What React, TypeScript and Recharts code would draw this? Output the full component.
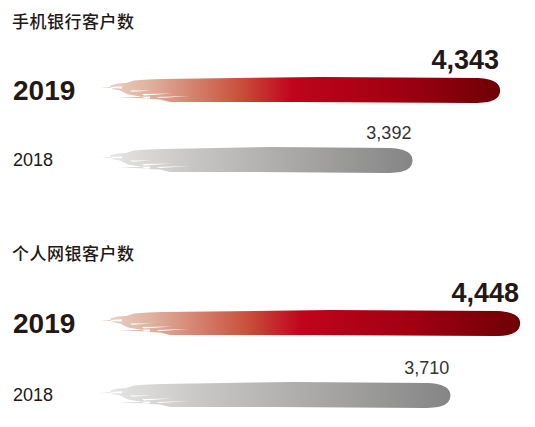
import React from "react";
import { BarChart, Bar, XAxis, YAxis, LabelList } from "recharts";

const categories = ["2019", "2018"];
const mobileValues = [4343, 3392];
const onlineValues = [4448, 3710];
const panelTitles = ["手机银行客户数", "个人网银客户数"];

const FONT = "'Liberation Sans', Arial, Helvetica, sans-serif";
const CJK = "'Noto Sans CJK SC', 'Noto Sans', sans-serif";

const toRows = (values: number[]) =>
  categories.map((year, i) => ({ year, value: values[i] }));

// brush stroke: ragged, upper-heavy left end and a rounded right end
function brushPath(x: number, y: number, w: number, h: number) {
  const r = x + w;
  const body = [
    `M${x + 10},${y + h * 0.3}`,
    `L${x + 18},${y + h * 0.22}`,
    `L${x + 26},${y + h * 0.2}`,
    `L${x + 34},${y + h * 0.1}`,
    `L${x + 48},${y + h * 0.06}`,
    `L${x + 62},${y + 1}`,
    `L${x + w * 0.55},${y - 1}`,
    `L${r - 22},${y}`,
    `C${r - 3},${y + 1} ${r + 1},${y + h * 0.3} ${r},${y + h * 0.55}`,
    `C${r - 1},${y + h * 0.85} ${r - 8},${y + h} ${r - 26},${y + h}`,
    `L${x + w * 0.5},${y + h - 1}`,
    `L${x + 70},${y + h - 1}`,
    `L${x + 60},${y + h * 0.86}`,
    `L${x + 48},${y + h * 0.84}`,
    `L${x + 40},${y + h * 0.74}`,
    `L${x + 28},${y + h * 0.66}`,
    `L${x + 20},${y + h * 0.5}`,
    `L${x + 12},${y + h * 0.44}`,
    "Z",
  ].join(" ");
  const streaks = [
    `M${x},${y + h * 0.38} L${x + 22},${y + h * 0.33} L${x + 22},${y + h * 0.42} Z`,
    `M${x + 18},${y + h * 0.78} L${x + 50},${y + h * 0.74} L${x + 50},${y + h * 0.82} Z`,
  ].join(" ");
  const holes = [
    `M${x + 42},${y + h * 0.64} L${x + 72},${y + h * 0.62} L${x + 44},${y + h * 0.7} Z`,
    `M${x + 56},${y + h * 0.76} L${x + 90},${y + h * 0.72} L${x + 60},${y + h * 0.8} Z`,
    `M${x + 30},${y + h * 0.5} L${x + 52},${y + h * 0.5} L${x + 32},${y + h * 0.55} Z`,
  ].join(" ");
  return `${body} ${holes} ${streaks}`;
}

const BrushShape = (props: any) => {
  const { x, y, width, height, index } = props;
  if (!width) return null;
  const fill = index === 0 ? "url(#redStroke)" : "url(#grayStroke)";
  return <path d={brushPath(x, y, width, height)} fill={fill} fillRule="evenodd" />;
};

const YearTick = (props: any) => {
  const { y, payload } = props;
  const big = payload.value === "2019";
  return (
    <text
      x={13}
      y={big ? y + 10 : y + 6}
      textAnchor="start"
      fontFamily={FONT}
      fontSize={big ? 28 : 18}
      fontWeight={big ? 700 : 400}
      fill="#231815"
    >
      {payload.value}
    </text>
  );
};

const ValueLabel = (props: any) => {
  const { x, y, width, value, index } = props;
  const big = index === 0;
  return (
    <text
      x={x + width - 1}
      y={y - 9}
      textAnchor="end"
      fontFamily={FONT}
      fontSize={big ? 27 : 18}
      fontWeight={big ? 700 : 400}
      fill={big ? "#231815" : "#333333"}
    >
      {Number(value).toLocaleString("en-US")}
    </text>
  );
};

const Panel = ({ values, top, band, right }: { values: number[]; top: number; band: number; right: number }) => (
  <div style={{ position: "absolute", left: 0, top }}>
    <BarChart
      width={535}
      height={band * 2 + 22}
      data={toRows(values)}
      layout="vertical"
      margin={{ top: 22, right, bottom: 0, left: 0 }}
      barSize={25}
    >
      <defs>
        <linearGradient id="redStroke" x1="0" y1="0" x2="1" y2="0">
          <stop offset="0%" stopColor="#ecd6cc" />
          <stop offset="12%" stopColor="#dfb2a0" />
          <stop offset="35%" stopColor="#c9503c" />
          <stop offset="48%" stopColor="#c0041c" />
          <stop offset="75%" stopColor="#a00010" />
          <stop offset="100%" stopColor="#6e0006" />
        </linearGradient>
        <linearGradient id="grayStroke" x1="0" y1="0" x2="1" y2="0">
          <stop offset="0%" stopColor="#e8e8e8" />
          <stop offset="30%" stopColor="#c8c6c4" />
          <stop offset="100%" stopColor="#858585" />
        </linearGradient>
      </defs>
      <XAxis type="number" domain={[0, Math.max(...values)]} hide />
      <YAxis
        type="category"
        dataKey="year"
        width={100}
        axisLine={false}
        tickLine={false}
        tick={<YearTick />}
      />
      <Bar dataKey="value" shape={<BrushShape />} isAnimationActive={false}>
        <LabelList dataKey="value" content={<ValueLabel />} />
      </Bar>
    </BarChart>
  </div>
);

const Title = ({ text, top }: { text: string; top: number }) => (
  <div
    style={{
      position: "absolute",
      left: 12,
      top,
      fontFamily: CJK,
      fontSize: 17,
      fontWeight: 500,
      lineHeight: "20px",
      color: "#231815",
      letterSpacing: 0.5,
    }}
  >
    {text}
  </div>
);

export default function App() {
  return (
    <div
      style={{
        position: "absolute",
        left: 0,
        top: 0,
        width: 535,
        height: 427,
        overflow: "hidden",
        background: "#ffffff",
      }}
    >
      <Title text={panelTitles[0]} top={11} />
      <Panel values={mobileValues} top={33} band={70} right={35} />
      <Title text={panelTitles[1]} top={243} />
      <Panel values={onlineValues} top={265} band={72} right={15} />
    </div>
  );
}
